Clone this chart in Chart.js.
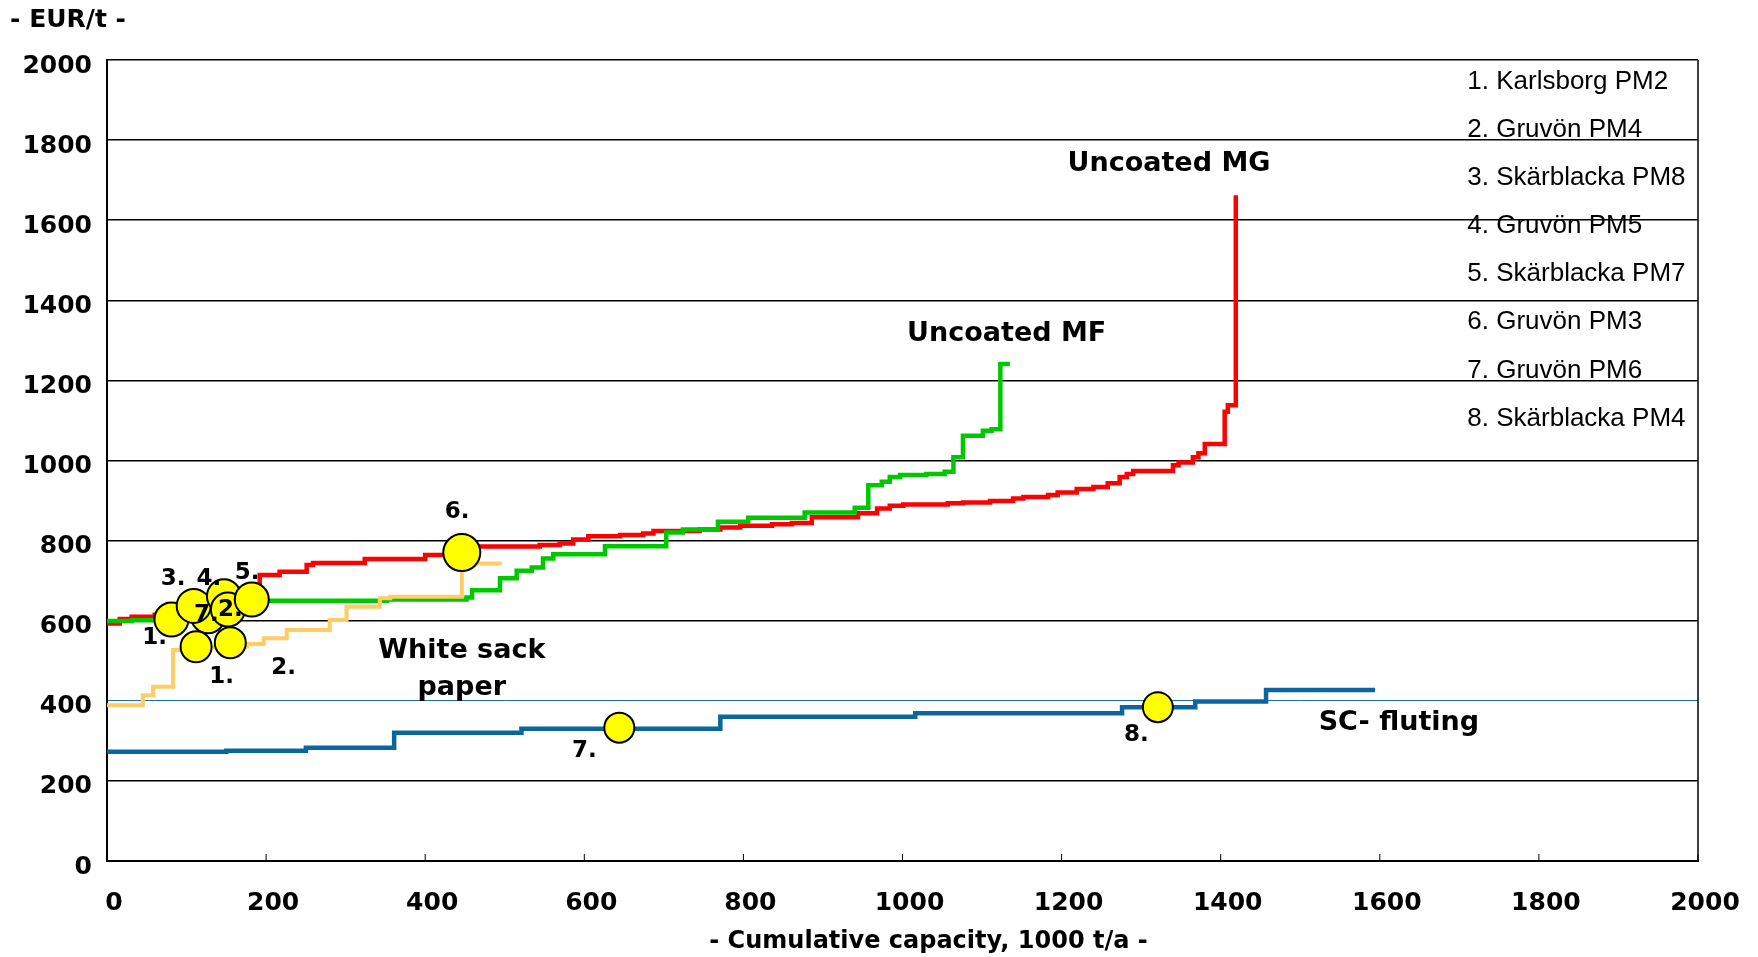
<!DOCTYPE html>
<html>
<head>
<meta charset="utf-8">
<script src="https://cdn.jsdelivr.net/npm/chart.js@4.4.1/dist/chart.umd.min.js"></script>
<style>
  html, body { margin: 0; padding: 0; background: #fff; }
  #wrap { width: 1758px; height: 957px; }
</style>
</head>
<body>
<div id="wrap"><canvas id="costChart"></canvas></div>
<script>
// cumulative capacity (1000 t/a) where each cost level starts, and the cost level (EUR/t)
const mgCapacity = [0, 16, 31, 60, 100, 140, 175, 192, 217, 251, 259, 324, 400, 446, 544, 569, 586, 605, 645, 674, 687, 745, 771, 796, 836, 861, 886, 944, 968, 984, 1001, 1057, 1076, 1110, 1139, 1152, 1183, 1195, 1219, 1240, 1258, 1273, 1282, 1290, 1340, 1347, 1365, 1372, 1380, 1405, 1409, 1419];
const mgCost     = [593, 604, 610, 615, 625, 640, 652, 714, 722, 739, 744, 754, 764, 785, 789, 793, 803, 811, 814, 818, 824, 828, 833, 837, 841, 844, 858, 868, 880, 887, 890, 893, 895, 899, 905, 909, 914, 920, 929, 934, 943, 959, 966, 974, 988, 995, 1008, 1018, 1041, 1122, 1138, 1662];

const mfCapacity = [0, 31, 100, 150, 180, 352, 452, 459, 494, 515, 534, 548, 561, 626, 703, 724, 768, 806, 877, 940, 957, 974, 984, 997, 1030, 1053, 1064, 1076, 1101, 1112, 1123, 1135];
const mfCost     = [599, 601, 615, 635, 650, 653, 658, 676, 706, 725, 733, 755, 766, 786, 820, 828, 847, 857, 870, 882, 938, 947, 959, 964, 966, 972, 1008, 1062, 1074, 1078, 1241, 1241];

const sackCapacity = [0, 45, 58, 83, 130, 176, 197, 226, 280, 301, 343, 356, 446, 496];
const sackCost     = [389, 414, 435, 527, 535, 542, 556, 577, 602, 635, 656, 660, 743, 743];

const flutingCapacity = [0, 150, 250, 361, 521, 771, 1016, 1276, 1368, 1457, 1594];
const flutingCost     = [273, 275, 283, 320, 330, 360, 369, 384, 398, 427, 427];

// the marked mills (yellow dots)
const millCapacity = [81, 127, 109, 147, 152, 182, 446, 112, 155, 644, 1321];
const millCost     = [603, 611, 637, 661, 628, 653, 770, 535, 545, 333, 384];

const millNames = ['1. Karlsborg PM2', '2. Gruvön PM4', '3. Skärblacka PM8', '4. Gruvön PM5',
                   '5. Skärblacka PM7', '6. Gruvön PM3', '7. Gruvön PM6', '8. Skärblacka PM4'];

const xTicks = [0, 200, 400, 600, 800, 1000, 1200, 1400, 1600, 1800, 2000];
const yTicks = [0, 200, 400, 600, 800, 1000, 1200, 1400, 1600, 1800, 2000];

// text labels placed in data units
const curveLabels = ['Uncoated MG', 'Uncoated MF', 'White sack', 'paper', 'SC- fluting'];
const curveLabelX = [1335, 1131, 446, 446, 1624];
const curveLabelY = [1740, 1316, 524, 432, 344];

const millTags  = ['1.', '3.', '4.', '5.', '7.', '2.', '1.', '2.', '6.', '7.', '8.'];
const millTagX  = [60, 83, 128, 176, 125, 155, 144, 222, 440, 600, 1294];
const millTagY  = [557, 703, 704, 720, 614, 627, 459, 481, 872, 275, 315];

const toPoints = (xs, ys) => xs.map((v, i) => ({ x: v, y: ys[i] }));

function stepLine(xs, ys, color, width) {
  return {
    data: toPoints(xs, ys),
    showLine: true,
    stepped: true,
    borderColor: color,
    borderWidth: width,
    borderJoinStyle: 'miter',
    pointRadius: 0,
    pointHoverRadius: 0,
    order: 2
  };
}

const boldFont = '"DejaVu Sans", sans-serif';

const overlay = {
  id: 'overlay',
  afterDatasetsDraw(chart) {
    const { ctx, chartArea: a, scales: { x, y } } = chart;
    ctx.save();
    // small ticks pointing up from the x axis
    ctx.strokeStyle = '#000';
    ctx.lineWidth = 1;
    xTicks.forEach(v => {
      const px = x.getPixelForValue(v);
      ctx.beginPath();
      ctx.moveTo(px, a.bottom);
      ctx.lineTo(px, a.bottom - 7);
      ctx.stroke();
    });
    // right side of the frame
    ctx.lineWidth = 1.5;
    ctx.beginPath();
    ctx.moveTo(a.right, a.top);
    ctx.lineTo(a.right, a.bottom);
    ctx.stroke();

    ctx.fillStyle = '#000';
    ctx.textAlign = 'center';
    ctx.textBaseline = 'middle';
    ctx.font = 'bold 27px ' + boldFont;
    curveLabels.forEach((t, i) => {
      ctx.fillText(t, x.getPixelForValue(curveLabelX[i]), y.getPixelForValue(curveLabelY[i]));
    });
    ctx.font = 'bold 23px ' + boldFont;
    millTags.forEach((t, i) => {
      ctx.fillText(t, x.getPixelForValue(millTagX[i]), y.getPixelForValue(millTagY[i]));
    });

    // axis titles
    ctx.font = 'bold 25px ' + boldFont;
    ctx.fillText('- EUR/t -', a.left - 39, a.top - 40);
    ctx.font = 'bold 24px ' + boldFont;
    ctx.fillText('- Cumulative capacity, 1000 t/a -', (a.left + a.right) / 2 + 26, a.bottom + 81);

    // mill list at top right
    ctx.textAlign = 'left';
    ctx.font = '26px "Liberation Sans", Arial, sans-serif';
    millNames.forEach((t, i) => {
      ctx.fillText(t, x.getPixelForValue(1710), y.getPixelForValue(1945 - i * 120));
    });
    ctx.restore();
  }
};

new Chart(document.getElementById('costChart'), {
  type: 'scatter',
  data: {
    datasets: [
      {
        data: toPoints(millCapacity, millCost),
        backgroundColor: '#ffff00',
        borderColor: '#000',
        borderWidth: 2,
        pointRadius: [17, 17, 17, 17, 17, 17, 18.5, 15.5, 15.5, 15, 15],
        pointHoverRadius: 0,
        order: 1
      },
      stepLine(flutingCapacity, flutingCost, '#0b66a0', 4.5),
      stepLine(sackCapacity, sackCost, '#ffcc66', 4),
      stepLine(mfCapacity, mfCost, '#00c800', 4.5),
      stepLine(mgCapacity, mgCost, '#ff0000', 4.5)
    ]
  },
  options: {
    responsive: true,
    maintainAspectRatio: false,
    animation: false,
    layout: { padding: { left: 0, top: 60, right: 60, bottom: 0 } },
    scales: {
      x: {
        type: 'linear',
        min: 0,
        max: 2000,
        afterFit: s => { s.height = 96; s.paddingRight = 0; s.paddingLeft = 0; },
        afterBuildTicks: s => { s.ticks = xTicks.map(v => ({ value: v })); },
        grid: { display: true, drawOnChartArea: false, drawTicks: false },
        border: { display: true, color: '#000', width: 2 },
        ticks: {
          color: '#000',
          padding: 27,
          labelOffset: 7,
          maxRotation: 0,
          callback: v => String(v),
          font: { family: boldFont, size: 25, weight: 'bold' }
        },
        title: { display: false }
      },
      y: {
        min: 0,
        max: 2000,
        afterFit: s => { s.width = 107; },
        afterBuildTicks: s => { s.ticks = yTicks.map(v => ({ value: v })); },
        grid: {
          drawTicks: false,
          color: c => (c.tick && c.tick.value === 400 ? '#1f6fa3' : '#000'),
          lineWidth: c => (c.tick && c.tick.value === 400 ? 1 : 1.5)
        },
        border: { display: true, color: '#000', width: 2 },
        ticks: {
          color: '#000',
          padding: 15,
          labelOffset: 6,
          callback: v => String(v),
          font: { family: boldFont, size: 25, weight: 'bold' }
        }
      }
    },
    plugins: {
      legend: { display: false },
      tooltip: { enabled: false }
    }
  },
  plugins: [overlay]
});
</script>
</body>
</html>
